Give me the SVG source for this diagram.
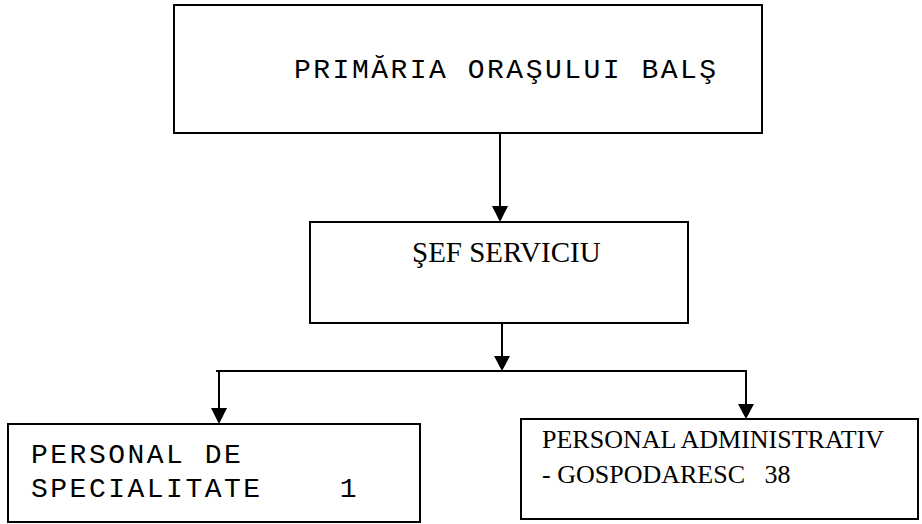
<svg xmlns="http://www.w3.org/2000/svg" width="922" height="524" viewBox="0 0 922 524">
<defs>
<style>
.box{fill:#fff;stroke:#000;stroke-width:2}
.ln{fill:none;stroke:#000;stroke-width:2}
.mono{font-family:"Liberation Mono","Courier New",monospace;fill:#000;font-size:28px;letter-spacing:2.5px}
.serif{font-family:"Liberation Serif","Times New Roman",serif;fill:#000}
</style>
</defs>
<rect width="922" height="524" fill="#fff"/>
<g id="connectors">
<line class="ln" x1="500" y1="133" x2="500" y2="206"/>
<polygon points="492,206 508,206 500,222" fill="#000"/>
<line class="ln" x1="502" y1="323" x2="502" y2="356"/>
<polygon points="494,356 510,356 502,371" fill="#000"/>
<line class="ln" x1="216" y1="371" x2="747" y2="371"/>
<line class="ln" x1="219" y1="371" x2="219" y2="408"/>
<polygon points="211,408 227,408 219,424" fill="#000"/>
<line class="ln" x1="746" y1="371" x2="746" y2="404"/>
<polygon points="738,404 754,404 746,419" fill="#000"/>
</g>
<g id="primaria">
<rect class="box" x="174" y="5" width="588" height="128"/>
<text class="mono" x="294" y="78">PRIMĂRIA ORAŞULUI BALŞ</text>
</g>
<g id="sef">
<rect class="box" x="310" y="222" width="378" height="101"/>
<text class="serif" x="412" y="262" font-size="29">ŞEF SERVICIU</text>
</g>
<g id="specialitate">
<rect class="box" x="8" y="424" width="412" height="98"/>
<text class="mono" xml:space="preserve"><tspan x="31" y="463">PERSONAL DE</tspan><tspan x="31" y="497">SPECIALITATE    1</tspan></text>
</g>
<g id="administrativ">
<rect class="box" x="521" y="419" width="397" height="100"/>
<text class="serif" font-size="26" xml:space="preserve"><tspan x="542" y="448">PERSONAL ADMINISTRATIV</tspan><tspan x="542" y="483">- GOSPODARESC   38</tspan></text>
</g>
</svg>
